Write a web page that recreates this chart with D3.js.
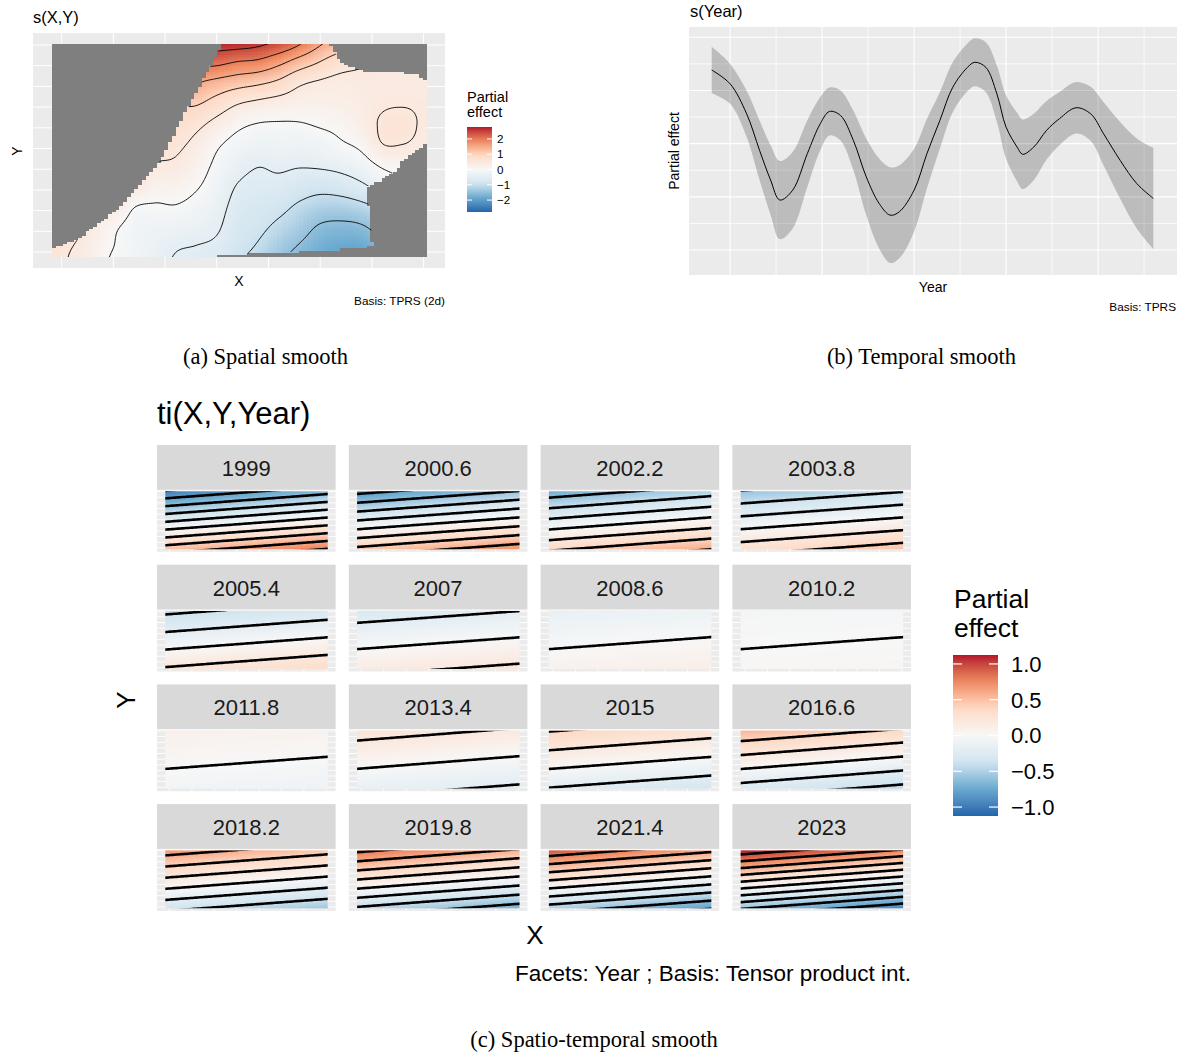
<!DOCTYPE html>
<html>
<head>
<meta charset="utf-8">
<script src="https://cdn.jsdelivr.net/npm/d3@7"></script>
<style>
  html, body { margin: 0; padding: 0; background: #ffffff; }
  svg { display: block; }
  .sans { font-family: "Liberation Sans", Arial, Helvetica, sans-serif; }
  .serif { font-family: "Liberation Serif", "Times New Roman", serif; }
</style>
</head>
<body>
<svg id="fig" width="1180" height="1053"></svg>
<script>
// ===================== (a) spatial smooth s(X,Y) =====================
// partial effect on a regular X / Y grid (rows run from top to bottom)
const spatialGridX = [-0.2, 0.2, 0.6, 1.0, 1.4, 1.8, 2.2, 2.6, 3.0, 3.4, 3.8, 4.2, 4.6, 5.0, 5.4, 5.8, 6.2, 6.6, 7.0];
const spatialGridY = [10.2, 9.2, 8.2, 7.2, 6.2, 5.2, 4.2, 3.2, 2.2, 1.2, 0.2, -0.8];
const spatialEffect = [
  [3.0, 3.0, 3.0, 3.0, 3.0, 2.95, 2.9, 2.85, 2.75, 2.75, 2.65, 2.45, 2.1, 1.6, 1.3, 1.0, 0.8, 0.7, 0.6],
  [3.0, 3.0, 3.0, 2.9, 2.75, 2.6, 2.4, 2.2, 2.15, 2.0, 1.92, 1.65, 1.31, 1.0, 0.72, 0.56, 0.5, 0.47, 0.45],
  [3.0, 2.9, 2.7, 2.5, 2.3, 2.1, 1.85, 1.55, 1.37, 1.22, 1.1, 0.91, 0.59, 0.45, 0.38, 0.44, 0.42, 0.42, 0.4],
  [2.8, 2.6, 2.3, 2.0, 1.7, 1.4, 1.1, 1.06, 0.81, 0.54, 0.41, 0.32, 0.26, 0.25, 0.28, 0.35, 0.45, 0.47, 0.45],
  [2.5, 2.2, 1.9, 1.5, 1.2, 0.9, 0.8, 0.63, 0.36, 0.11, -0.01, -0.03, -0.02, 0.05, 0.12, 0.3, 0.55, 0.62, 0.45],
  [2.1, 1.8, 1.4, 1.1, 0.8, 0.65, 0.6, 0.38, 0.065, -0.14, -0.25, -0.22, -0.24, -0.19, -0.05, 0.1, 0.49, 0.5, 0.4],
  [1.6, 1.3, 1.0, 0.7, 0.65, 0.48, 0.43, 0.22, -0.09, -0.34, -0.48, -0.42, -0.46, -0.43, -0.35, -0.2, 0.06, 0.15, 0.2],
  [1.3, 1.0, 0.65, 0.6, 0.5, 0.22, 0.21, 0.05, -0.21, -0.52, -0.62, -0.63, -0.77, -0.84, -0.76, -0.58, -0.3, -0.1, 0.0],
  [1.0, 0.8, 0.6, 0.45, 0.02, -0.04, -0.02, -0.14, -0.33, -0.65, -0.76, -0.87, -1.07, -1.21, -1.23, -1.12, -0.9, -0.6, -0.4],
  [0.85, 0.65, 0.38, 0.08, -0.15, -0.23, -0.25, -0.33, -0.44, -0.77, -0.9, -1.1, -1.31, -1.55, -1.6, -1.55, -1.3, -1.0, -0.7],
  [0.62, 0.5, 0.28, 0.0, -0.15, -0.31, -0.47, -0.52, -0.6, -0.87, -1.05, -1.32, -1.55, -1.75, -1.85, -1.85, -1.6, -1.3, -1.0],
  [0.6, 0.45, 0.2, -0.1, -0.25, -0.4, -0.55, -0.65, -0.75, -1.0, -1.2, -1.5, -1.75, -1.95, -2.05, -2.05, -1.8, -1.5, -1.2]
];
// outline of the area covered by observations (X, Y)
const spatialOutline = [
  [-0.19, -0.24], [-0.19, 0.14], [-0.03, 0.29], [0.30, 0.58], [0.74, 1.40], [1.13, 2.17], [1.38, 2.85],
  [1.71, 3.82], [1.96, 4.59], [2.15, 5.56], [2.31, 6.38], [2.44, 6.96], [2.68, 8.07], [2.93, 9.23],
  [3.10, 10.05], [5.19, 10.05], [5.44, 9.03], [5.91, 8.70], [6.80, 8.65], [6.93, 8.50], [7.03, 8.26],
  [7.06, 7.92], [7.06, 5.41], [6.99, 5.07], [6.80, 4.78], [6.60, 4.44], [6.49, 3.96], [6.29, 3.62],
  [6.10, 3.33], [5.87, 3.14], [5.92, 2.51], [5.96, 1.79], [6.02, 0.24], [5.25, 0.10], [4.42, 0.0],
  [3.00, -0.14], [3.00, -0.24]
];
const spatialExtent = { x0: -0.19, x1: 7.06, y0: -0.24, y1: 10.05 };
const spatialLevels = [-2.5, -2, -1.5, -1, -0.5, 0, 0.5, 1, 1.5, 2, 2.5];
const spatialLimit = 2.78;
const spatialLegendTicks = [-2, -1, 0, 1, 2];

// ===================== (b) temporal smooth s(Year) =====================
const yearPoints = [1999.0, 2000.0, 2000.9, 2001.6, 2002.2, 2002.7, 2003.4, 2004.2, 2004.9, 2005.4, 2006.0, 2006.7,
  2007.4, 2008.1, 2008.7, 2009.2, 2010.0, 2010.7, 2011.4, 2012.1, 2012.9, 2013.3, 2013.9, 2014.5,
  2015.0, 2015.6, 2015.9, 2016.5, 2017.2, 2017.9, 2018.8, 2019.6, 2020.3, 2021.2, 2022.1, 2023.0];
const yearFit = [0.277, 0.225, 0.112, -0.025, -0.137, -0.212, -0.175, -0.037, 0.075, 0.121, 0.106, 0.012,
  -0.125, -0.225, -0.269, -0.256, -0.175, -0.037, 0.087, 0.212, 0.287, 0.306, 0.287, 0.187,
  0.062, -0.013, -0.040, -0.013, 0.050, 0.094, 0.135, 0.112, 0.037, -0.063, -0.150, -0.206];
const yearUpper = [0.364, 0.300, 0.199, 0.087, -0.006, -0.065, -0.031, 0.088, 0.175, 0.211, 0.200, 0.124,
  0.019, -0.056, -0.089, -0.081, -0.019, 0.094, 0.193, 0.306, 0.377, 0.396, 0.381, 0.293,
  0.181, 0.116, 0.091, 0.112, 0.160, 0.194, 0.232, 0.214, 0.156, 0.081, 0.019, -0.016];
const yearLower = [0.190, 0.150, 0.025, -0.137, -0.268, -0.359, -0.319, -0.162, -0.025, 0.031, 0.012, -0.100,
  -0.269, -0.394, -0.449, -0.431, -0.331, -0.168, -0.019, 0.118, 0.197, 0.216, 0.193, 0.081,
  -0.057, -0.142, -0.171, -0.138, -0.060, -0.006, 0.038, 0.010, -0.082, -0.207, -0.319, -0.396];
const yearBreaks = [2000, 2005, 2010, 2015, 2020];
const yearMinorBreaks = [2002.5, 2007.5, 2012.5, 2017.5, 2022.5];
const effectBreaks = [-0.4, -0.2, 0, 0.2, 0.4];
const effectMinorBreaks = [-0.3, -0.1, 0.1, 0.3];

// ===================== (c) spatio-temporal smooth ti(X,Y,Year) =====================
const facetYears = ["1999", "2000.6", "2002.2", "2003.8", "2005.4", "2007", "2008.6", "2010.2",
  "2011.8", "2013.4", "2015", "2016.6", "2018.2", "2019.8", "2021.4", "2023"];
// partial effect at the four corners of each facet
const facetTopLeft     = [-0.98, -0.86, -0.72, -0.59, -0.44, -0.29, -0.145, -0.033, 0.099, 0.27, 0.41, 0.55, 0.69, 0.84, 0.94, 1.12];
const facetTopRight    = [-0.67, -0.59, -0.49, -0.41, -0.30, -0.20, -0.099, -0.023, 0.068, 0.18, 0.28, 0.37, 0.47, 0.57, 0.64, 0.77];
const facetBottomLeft  = [0.50, 0.45, 0.37, 0.31, 0.22, 0.15, 0.075, 0.017, -0.051, -0.14, -0.21, -0.28, -0.35, -0.43, -0.49, -0.58];
const facetBottomRight = [0.81, 0.72, 0.60, 0.50, 0.36, 0.24, 0.121, 0.028, -0.083, -0.23, -0.34, -0.46, -0.57, -0.70, -0.79, -0.94];
const facetLevels = [-1.2, -1.0, -0.8, -0.6, -0.4, -0.2, 0, 0.2, 0.4, 0.6, 0.8, 1.0, 1.2];
const facetLimit = 1.125;
const facetLegendTicks = [-1, -0.5, 0, 0.5, 1];

// ---------------------------------------------------------------------
const svg = d3.select("#fig");
svg.append("rect").attr("width", 1180).attr("height", 1053).attr("fill", "#ffffff");
const defs = svg.append("defs");

// RdBu diverging palette (blue = negative, red = positive), Lab interpolation
const RDBU = ["#2166AC", "#67A9CF", "#D1E5F0", "#F7F7F7", "#FDDBC7", "#EF8A62", "#B2182B"];
function divergingFill(lim) {
  return d3.scaleLinear()
    .domain(RDBU.map((_, i) => -lim + i * lim / 3))
    .range(RDBU)
    .interpolate(d3.interpolateLab)
    .clamp(true);
}

function catmull(p0, p1, p2, p3, t) {
  return p1 + 0.5 * t * (p2 - p0 + t * (2 * p0 - 5 * p1 + 4 * p2 - p3 + t * (3 * (p1 - p2) + p3 - p0)));
}
// bicubic sample of a regular grid
function sampleGrid(gx, gy, grid, X, Y) {
  const nx = gx.length, ny = gy.length;
  let fx = (X - gx[0]) / (gx[1] - gx[0]);
  let fy = (Y - gy[0]) / (gy[1] - gy[0]);
  fx = Math.max(0, Math.min(nx - 1, fx));
  fy = Math.max(0, Math.min(ny - 1, fy));
  const i = Math.min(nx - 2, Math.floor(fx)), j = Math.min(ny - 2, Math.floor(fy));
  const tx = fx - i, ty = fy - j;
  const at = (jj, ii) => grid[Math.max(0, Math.min(ny - 1, jj))][Math.max(0, Math.min(nx - 1, ii))];
  const r = [-1, 0, 1, 2].map(m => catmull(at(j + m, i - 1), at(j + m, i), at(j + m, i + 1), at(j + m, i + 2), tx));
  return catmull(r[0], r[1], r[2], r[3], ty);
}
const spatialAt = (X, Y) => sampleGrid(spatialGridX, spatialGridY, spatialEffect, X, Y);

function addVerticalGradient(id, scale, lim) {
  const grad = defs.append("linearGradient").attr("id", id)
    .attr("x1", 0).attr("y1", 1).attr("x2", 0).attr("y2", 0);
  d3.range(0, 1.0001, 0.05).forEach(t => {
    grad.append("stop").attr("offset", t).attr("stop-color", scale(-lim + 2 * lim * t));
  });
}

// ===================== panel (a) =====================
(function drawSpatial() {
  const g = svg.append("g").attr("class", "sans");
  const x = d3.scaleLinear().domain([0, 7]).range([61.7, 423.6]);
  const y = d3.scaleLinear().domain([0, 10]).range([252, 45]);
  const col = divergingFill(spatialLimit);
  const ext = spatialExtent;
  const P = { x0: 33, x1: 445, y0: 33, y1: 268 };

  g.append("text").attr("x", 33).attr("y", 22.5).attr("font-size", 16.5).attr("fill", "#000").text("s(X,Y)");
  g.append("rect").attr("x", P.x0).attr("y", P.y0).attr("width", P.x1 - P.x0).attr("height", P.y1 - P.y0).attr("fill", "#EBEBEB");
  g.append("g").selectAll("line").data(x.ticks(8)).join("line")
    .attr("x1", d => x(d)).attr("x2", d => x(d)).attr("y1", P.y0).attr("y2", P.y1)
    .attr("stroke", "#fff").attr("stroke-width", 1);
  g.append("g").selectAll("line").data(y.ticks(10)).join("line")
    .attr("y1", d => y(d)).attr("y2", d => y(d)).attr("x1", P.x0).attr("x2", P.x1)
    .attr("stroke", "#fff").attr("stroke-width", 1);

  // missing-value background over the whole raster extent
  const rx0 = Math.round(x(ext.x0)), rx1 = Math.round(x(ext.x1));
  const ry0 = Math.round(y(ext.y1)), ry1 = Math.round(y(ext.y0));
  g.append("rect").attr("x", rx0).attr("y", ry0).attr("width", rx1 - rx0).attr("height", ry1 - ry0)
    .attr("fill", "#7F7F7F");

  // raster cells inside the covered area
  const nCol = 100, nRow = 100;
  const cw = (ext.x1 - ext.x0) / nCol, ch = (ext.y1 - ext.y0) / nRow;
  const cells = [];
  for (let j = 0; j < nRow; j++) {
    for (let i = 0; i < nCol; i++) {
      const X0 = ext.x0 + i * cw, Y0 = ext.y1 - j * ch;
      const cx = X0 + cw / 2, cy = Y0 - ch / 2;
      if (d3.polygonContains(spatialOutline, [cx, cy])) {
        cells.push({ X0, X1: X0 + cw, Y0, Y1: Y0 - ch, v: spatialAt(cx, cy) });
      }
    }
  }
  g.append("g").attr("shape-rendering", "crispEdges").selectAll("rect").data(cells).join("rect")
    .attr("x", d => Math.round(x(d.X0)))
    .attr("y", d => Math.round(y(d.Y0)))
    .attr("width", d => Math.round(x(d.X1)) - Math.round(x(d.X0)))
    .attr("height", d => Math.round(y(d.Y1)) - Math.round(y(d.Y0)))
    .attr("fill", d => col(d.v));

  // contour lines
  const cnx = 190, cny = 108, cX0 = -0.32, cdX = 0.04, cY0 = 10.25, cdY = 0.1;
  const vals = new Array(cnx * cny);
  for (let j = 0; j < cny; j++) for (let i = 0; i < cnx; i++) vals[j * cnx + i] = spatialAt(cX0 + i * cdX, cY0 - j * cdY);
  const contours = d3.contours().size([cnx, cny]).thresholds(spatialLevels)(vals);
  const proj = d3.geoTransform({
    point(px, py) { this.stream.point(x(cX0 + (px - 0.5) * cdX), y(cY0 - (py - 0.5) * cdY)); }
  });
  defs.append("clipPath").attr("id", "clipSpatial").append("polygon")
    .attr("points", spatialOutline.map(p => [x(p[0]), y(p[1])].join(",")).join(" "));
  g.append("g").attr("clip-path", "url(#clipSpatial)").selectAll("path").data(contours).join("path")
    .attr("d", d3.geoPath(proj)).attr("fill", "none").attr("stroke", "#000").attr("stroke-width", 0.9);

  // axis titles and caption
  g.append("text").attr("x", 239).attr("y", 286).attr("text-anchor", "middle").attr("font-size", 14).text("X");
  g.append("text").attr("transform", "translate(22,151) rotate(-90)").attr("text-anchor", "middle").attr("font-size", 14).text("Y");
  g.append("text").attr("x", 445).attr("y", 305).attr("text-anchor", "end").attr("font-size", 11.8).text("Basis: TPRS (2d)");

  // legend
  addVerticalGradient("gradSpatial", col, spatialLimit);
  const ly = d3.scaleLinear().domain([-spatialLimit, spatialLimit]).range([212, 127]);
  g.append("text").attr("x", 467).attr("y", 101.5).attr("font-size", 14.5).text("Partial");
  g.append("text").attr("x", 467).attr("y", 116.5).attr("font-size", 14.5).text("effect");
  g.append("rect").attr("x", 467).attr("y", ly(spatialLimit)).attr("width", 25)
    .attr("height", ly(-spatialLimit) - ly(spatialLimit)).attr("fill", "url(#gradSpatial)");
  const lt = g.append("g").selectAll("g").data(spatialLegendTicks).join("g");
  lt.append("line").attr("x1", 467).attr("x2", 472).attr("y1", d => ly(d)).attr("y2", d => ly(d)).attr("stroke", "#fff");
  lt.append("line").attr("x1", 487).attr("x2", 492).attr("y1", d => ly(d)).attr("y2", d => ly(d)).attr("stroke", "#fff");
  lt.append("text").attr("x", 497).attr("y", d => ly(d)).attr("dy", "0.35em").attr("font-size", 11.6)
    .text(d => d3.format("d")(d));
})();

// ===================== panel (b) =====================
(function drawTemporal() {
  const g = svg.append("g").attr("class", "sans");
  const x = d3.scaleLinear().domain([1999, 2023]).range([711.7, 1153.3]);
  const y = d3.scaleLinear().domain([-0.4, 0.4]).range([250, 37.3]);
  const P = { x0: 689, x1: 1177, y0: 27, y1: 275 };

  g.append("text").attr("x", 690).attr("y", 16.5).attr("font-size", 16.5).text("s(Year)");
  g.append("rect").attr("x", P.x0).attr("y", P.y0).attr("width", P.x1 - P.x0).attr("height", P.y1 - P.y0).attr("fill", "#EBEBEB");
  g.append("g").selectAll("line").data(yearMinorBreaks).join("line")
    .attr("x1", d => x(d)).attr("x2", d => x(d)).attr("y1", P.y0).attr("y2", P.y1).attr("stroke", "#fff").attr("stroke-width", 0.8);
  g.append("g").selectAll("line").data(effectMinorBreaks).join("line")
    .attr("y1", d => y(d)).attr("y2", d => y(d)).attr("x1", P.x0).attr("x2", P.x1).attr("stroke", "#fff").attr("stroke-width", 0.8);
  g.append("g").selectAll("line").data(yearBreaks).join("line")
    .attr("x1", d => x(d)).attr("x2", d => x(d)).attr("y1", P.y0).attr("y2", P.y1).attr("stroke", "#fff").attr("stroke-width", 1.1);
  g.append("g").selectAll("line").data(effectBreaks).join("line")
    .attr("y1", d => y(d)).attr("y2", d => y(d)).attr("x1", P.x0).attr("x2", P.x1).attr("stroke", "#fff").attr("stroke-width", 1.1);

  const rows = yearPoints.map((t, i) => ({ t, fit: yearFit[i], lo: yearLower[i], hi: yearUpper[i] }));
  g.append("path").datum(rows)
    .attr("d", d3.area().x(d => x(d.t)).y0(d => y(d.lo)).y1(d => y(d.hi)).curve(d3.curveCatmullRom))
    .attr("fill", "#000").attr("fill-opacity", 0.2);
  g.append("path").datum(rows)
    .attr("d", d3.line().x(d => x(d.t)).y(d => y(d.fit)).curve(d3.curveCatmullRom))
    .attr("fill", "none").attr("stroke", "#000").attr("stroke-width", 1);

  g.append("text").attr("x", 933).attr("y", 292).attr("text-anchor", "middle").attr("font-size", 14).text("Year");
  g.append("text").attr("transform", "translate(679,151) rotate(-90)").attr("text-anchor", "middle").attr("font-size", 14).text("Partial effect");
  g.append("text").attr("x", 1176).attr("y", 311).attr("text-anchor", "end").attr("font-size", 11.8).text("Basis: TPRS");
})();

// ===================== panel (c) =====================
(function drawSpatioTemporal() {
  const g = svg.append("g").attr("class", "sans");
  const col = divergingFill(facetLimit);
  const ext = spatialExtent;
  const col0 = 157, colStep = 191.8, facetW = 178.6;
  const row0 = 445, rowStep = 119.7, stripH = 44.8, panelTop = 45.6, panelH = 61.2;

  g.append("text").attr("x", 157).attr("y", 424).attr("font-size", 31).text("ti(X,Y,Year)");

  facetYears.forEach((label, k) => {
    const c = k % 4, r = Math.floor(k / 4);
    const px0 = col0 + c * colStep, py0 = row0 + r * rowStep;
    const pTop = py0 + panelTop, pBot = pTop + panelH;
    const rx0 = px0 + 8.3, rx1 = px0 + 170.7, ry0 = pTop + 0.7, ry1 = pBot - 2.6;
    const x = d3.scaleLinear().domain([ext.x0, ext.x1]).range([rx0, rx1]);
    const y = d3.scaleLinear().domain([ext.y0, ext.y1]).range([ry1, ry0]);
    const fg = g.append("g");

    // strip
    fg.append("rect").attr("x", px0).attr("y", py0).attr("width", facetW).attr("height", stripH).attr("fill", "#D9D9D9");
    fg.append("text").attr("x", px0 + facetW / 2).attr("y", py0 + 31).attr("text-anchor", "middle")
      .attr("font-size", 22).attr("fill", "#1A1A1A").text(label);

    // panel and grid
    fg.append("rect").attr("x", px0).attr("y", pTop).attr("width", facetW).attr("height", panelH).attr("fill", "#EBEBEB");
    fg.append("g").selectAll("line").data(x.ticks(8)).join("line")
      .attr("x1", d => x(d)).attr("x2", d => x(d)).attr("y1", pTop).attr("y2", pBot)
      .attr("stroke", "#fff").attr("stroke-width", 0.9);
    fg.append("g").selectAll("line").data(y.ticks(10)).join("line")
      .attr("y1", d => y(d)).attr("y2", d => y(d)).attr("x1", px0).attr("x2", px0 + facetW)
      .attr("stroke", "#fff").attr("stroke-width", 0.9);

    // field: bilinear between the corner values
    const tl = facetTopLeft[k], tr = facetTopRight[k], bl = facetBottomLeft[k], br = facetBottomRight[k];
    const field = (X, Y) => {
      const u = (X - ext.x0) / (ext.x1 - ext.x0), v = (ext.y1 - Y) / (ext.y1 - ext.y0);
      return tl * (1 - u) * (1 - v) + tr * u * (1 - v) + bl * (1 - u) * v + br * u * v;
    };

    // fill: the surface is planar, so a linear gradient along its slope reproduces it
    const w = rx1 - rx0, h = ry1 - ry0;
    const du = ((tr - tl) + (br - bl)) / 2, dv = ((bl - tl) + (br - tr)) / 2;
    const gxp = du / w, gyp = dv / h, gn = Math.hypot(gxp, gyp) || 1e-9;
    const nx = gxp / gn, ny = gyp / gn;
    const cxp = (rx0 + rx1) / 2, cyp = (ry0 + ry1) / 2, fc = (tl + tr + bl + br) / 4;
    const proj = [[rx0, ry0], [rx1, ry0], [rx0, ry1], [rx1, ry1]].map(p => (p[0] - cxp) * nx + (p[1] - cyp) * ny);
    const sMin = d3.min(proj), sMax = d3.max(proj);
    const grad = defs.append("linearGradient").attr("id", "gradFacet" + k).attr("gradientUnits", "userSpaceOnUse")
      .attr("x1", cxp + sMin * nx).attr("y1", cyp + sMin * ny)
      .attr("x2", cxp + sMax * nx).attr("y2", cyp + sMax * ny);
    d3.range(0, 1.0001, 0.05).forEach(t => {
      grad.append("stop").attr("offset", t).attr("stop-color", col(fc + (sMin + t * (sMax - sMin)) * gn));
    });
    fg.append("rect").attr("x", rx0).attr("y", ry0).attr("width", w).attr("height", h).attr("fill", "url(#gradFacet" + k + ")");

    // contours
    const cnx = 90, cny = 44;
    const cX0 = ext.x0 - 0.3, cdX = (ext.x1 - ext.x0 + 0.6) / (cnx - 1);
    const cY0 = ext.y1 + 0.8, cdY = (ext.y1 - ext.y0 + 1.6) / (cny - 1);
    const vals = new Array(cnx * cny);
    for (let j = 0; j < cny; j++) for (let i = 0; i < cnx; i++) vals[j * cnx + i] = field(cX0 + i * cdX, cY0 - j * cdY);
    const contours = d3.contours().size([cnx, cny]).thresholds(facetLevels)(vals);
    const tf = d3.geoTransform({
      point(px, py) { this.stream.point(x(cX0 + (px - 0.5) * cdX), y(cY0 - (py - 0.5) * cdY)); }
    });
    defs.append("clipPath").attr("id", "clipFacet" + k).append("rect")
      .attr("x", rx0).attr("y", ry0).attr("width", w).attr("height", h);
    fg.append("g").attr("clip-path", "url(#clipFacet" + k + ")").selectAll("path").data(contours).join("path")
      .attr("d", d3.geoPath(tf)).attr("fill", "none").attr("stroke", "#000").attr("stroke-width", 2.6);
  });

  // axis titles and caption
  g.append("text").attr("x", 535).attr("y", 944).attr("text-anchor", "middle").attr("font-size", 26).text("X");
  g.append("text").attr("transform", "translate(135,700) rotate(-90)").attr("text-anchor", "middle").attr("font-size", 26).text("Y");
  g.append("text").attr("x", 911).attr("y", 981).attr("text-anchor", "end").attr("font-size", 22.5)
    .text("Facets: Year ; Basis: Tensor product int.");

  // legend
  addVerticalGradient("gradFacetLegend", col, facetLimit);
  const ly = d3.scaleLinear().domain([-facetLimit, facetLimit]).range([816, 655]);
  g.append("text").attr("x", 954).attr("y", 608).attr("font-size", 26.5).text("Partial");
  g.append("text").attr("x", 954).attr("y", 636.5).attr("font-size", 26.5).text("effect");
  g.append("rect").attr("x", 953).attr("y", ly(facetLimit)).attr("width", 45)
    .attr("height", ly(-facetLimit) - ly(facetLimit)).attr("fill", "url(#gradFacetLegend)");
  const lt = g.append("g").selectAll("g").data(facetLegendTicks).join("g");
  lt.append("line").attr("x1", 953).attr("x2", 962).attr("y1", d => ly(d)).attr("y2", d => ly(d)).attr("stroke", "#fff").attr("stroke-width", 1.2);
  lt.append("line").attr("x1", 989).attr("x2", 998).attr("y1", d => ly(d)).attr("y2", d => ly(d)).attr("stroke", "#fff").attr("stroke-width", 1.2);
  lt.append("text").attr("x", 1011).attr("y", d => ly(d)).attr("dy", "0.36em").attr("font-size", 22)
    .text(d => d3.format(".1f")(d));
})();

// ===================== sub-figure captions =====================
const cap = svg.append("g").attr("class", "serif").attr("font-size", 22.5).attr("text-anchor", "middle").attr("fill", "#000");
cap.append("text").attr("x", 265.5).attr("y", 364).text("(a) Spatial smooth");
cap.append("text").attr("x", 921.5).attr("y", 364).text("(b) Temporal smooth");
cap.append("text").attr("x", 594).attr("y", 1047).text("(c) Spatio-temporal smooth");
</script>
</body>
</html>
